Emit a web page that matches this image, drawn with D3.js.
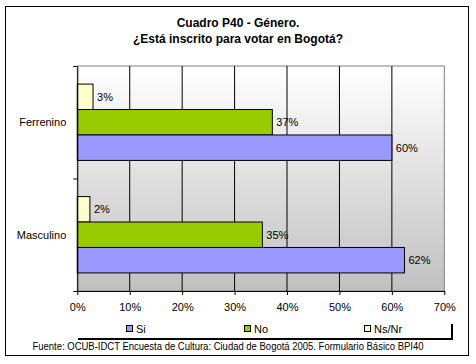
<!DOCTYPE html>
<html>
<head>
<meta charset="utf-8">
<script src="https://cdn.jsdelivr.net/npm/d3@7"></script>
<style>
  body { margin: 0; background: #fff; }
  text { font-family: Arial, "Liberation Sans", sans-serif; }
</style>
</head>
<body>
<svg id="chart" width="476" height="364"></svg>
<script>
const categories = ["Ferrenino", "Masculino"];
const seriesNames = ["Ns/Nr", "No", "Si"];
const siValues = [60.0, 62.4];
const noValues = [37.2, 35.3];
const nsValues = [3.0, 2.4];
const xTicks = [0, 10, 20, 30, 40, 50, 60, 70];
const colors = {"Si": "#9999ff", "No": "#99cc00", "Ns/Nr": "#ffffcc"};

const svg = d3.select("#chart");
const plotL = 77.3, plotR = 444.3, plotT = 66, plotB = 291;

// outer frame
svg.append("rect").attr("x", 5.5).attr("y", 6.5).attr("width", 463).attr("height", 349)
  .attr("fill", "none").attr("stroke", "#000");

// title
svg.append("text").attr("x", 238).attr("y", 27).attr("text-anchor", "middle")
  .attr("font-size", 12).attr("font-weight", "bold").text("Cuadro P40 - Género.");
svg.append("text").attr("x", 238).attr("y", 43).attr("text-anchor", "middle")
  .attr("font-size", 12).attr("font-weight", "bold").text("¿Está inscrito para votar en Bogotá?");

const x = d3.scaleLinear().domain([0, 70]).range([plotL, plotR]);
const y = d3.scaleBand().domain(categories).range([plotT, plotB]).paddingInner(0).paddingOuter(0);
const inner = d3.scaleBand().domain(seriesNames).range([0, y.bandwidth()]).paddingOuter(0.71).paddingInner(0);

// plot background gradient
const grad = svg.append("defs").append("linearGradient").attr("id", "bg")
  .attr("x1", 0).attr("y1", 0).attr("x2", 0).attr("y2", 1);
grad.append("stop").attr("offset", "0%").attr("stop-color", "#ffffff");
grad.append("stop").attr("offset", "100%").attr("stop-color", "#c0c0c0");
svg.append("rect").attr("x", plotL).attr("y", plotT).attr("width", plotR - plotL).attr("height", plotB - plotT)
  .attr("fill", "url(#bg)").attr("stroke", "#808080");

// gridlines
svg.append("g").selectAll("line").data(xTicks.slice(1, -1)).join("line")
  .attr("x1", d => x(d)).attr("x2", d => x(d)).attr("y1", plotT).attr("y2", plotB)
  .attr("stroke", "#000");

const rows = categories.map((c, i) => ({cat: c, "Si": siValues[i], "No": noValues[i], "Ns/Nr": nsValues[i]}));
const bars = [];
rows.forEach(r => seriesNames.forEach(s => bars.push({cat: r.cat, s: s, v: r[s]})));

svg.append("g").selectAll("rect").data(bars).join("rect")
  .attr("x", x(0)).attr("y", d => y(d.cat) + inner(d.s))
  .attr("width", d => x(d.v) - x(0)).attr("height", inner.bandwidth())
  .attr("fill", d => colors[d.s]).attr("stroke", "#000").attr("stroke-width", 1);

svg.append("g").selectAll("text").data(bars).join("text")
  .attr("x", d => x(d.v) + 4).attr("y", d => y(d.cat) + inner(d.s) + inner.bandwidth() / 2 + 4)
  .attr("font-size", 11).text(d => Math.round(d.v) + "%");

// axes
const xAxis = d3.axisBottom(x).tickValues(xTicks).tickFormat(d => d + "%").tickSize(4).tickSizeOuter(0);
const gx = svg.append("g").attr("transform", `translate(0,${plotB})`).call(xAxis);
gx.select(".domain").attr("stroke", "#000");
gx.selectAll("text").attr("font-size", 11).attr("dy", "1.2em").attr("fill", "#000")
  .attr("font-family", "Arial, 'Liberation Sans', sans-serif");

const yAxis = d3.axisLeft(d3.scaleLinear().domain([0, 2]).range([plotB, plotT]))
  .tickValues([0, 1, 2]).tickFormat("").tickSize(4).tickSizeOuter(0);
svg.append("g").attr("transform", `translate(${plotL},0)`).call(yAxis).select(".domain").attr("stroke", "#000");

svg.append("g").selectAll("text").data(categories).join("text")
  .attr("x", plotL - 11).attr("y", d => y(d) + inner("No") + inner.bandwidth() / 2 + 4)
  .attr("text-anchor", "end").attr("font-size", 11).text(d => d);

// legend
const legendItems = ["Si", "No", "Ns/Nr"];
const legendX = [126, 244, 364];
const lg = svg.append("g").selectAll("g").data(legendItems).join("g")
  .attr("transform", (d, i) => `translate(${legendX[i]},325)`);
lg.append("rect").attr("x", 0.5).attr("y", 0.5).attr("width", 6).attr("height", 6)
  .attr("fill", d => colors[d]).attr("stroke", "#000");
lg.append("text").attr("x", 10).attr("y", 8).attr("font-size", 11).text(d => d);
svg.append("line").attr("x1", 78).attr("x2", 453).attr("y1", 339).attr("y2", 339)
  .attr("stroke", "#000").attr("stroke-width", 2);
svg.append("line").attr("x1", 452).attr("x2", 452).attr("y1", 324).attr("y2", 340)
  .attr("stroke", "#000").attr("stroke-width", 2);

// source
svg.append("text").attr("x", 228).attr("y", 350).attr("text-anchor", "middle")
  .attr("font-size", 10).attr("textLength", 391).attr("lengthAdjust", "spacingAndGlyphs")
  .text("Fuente: OCUB-IDCT Encuesta de Cultura: Ciudad de Bogotá 2005. Formulario Básico BPI40");
</script>
</body>
</html>
